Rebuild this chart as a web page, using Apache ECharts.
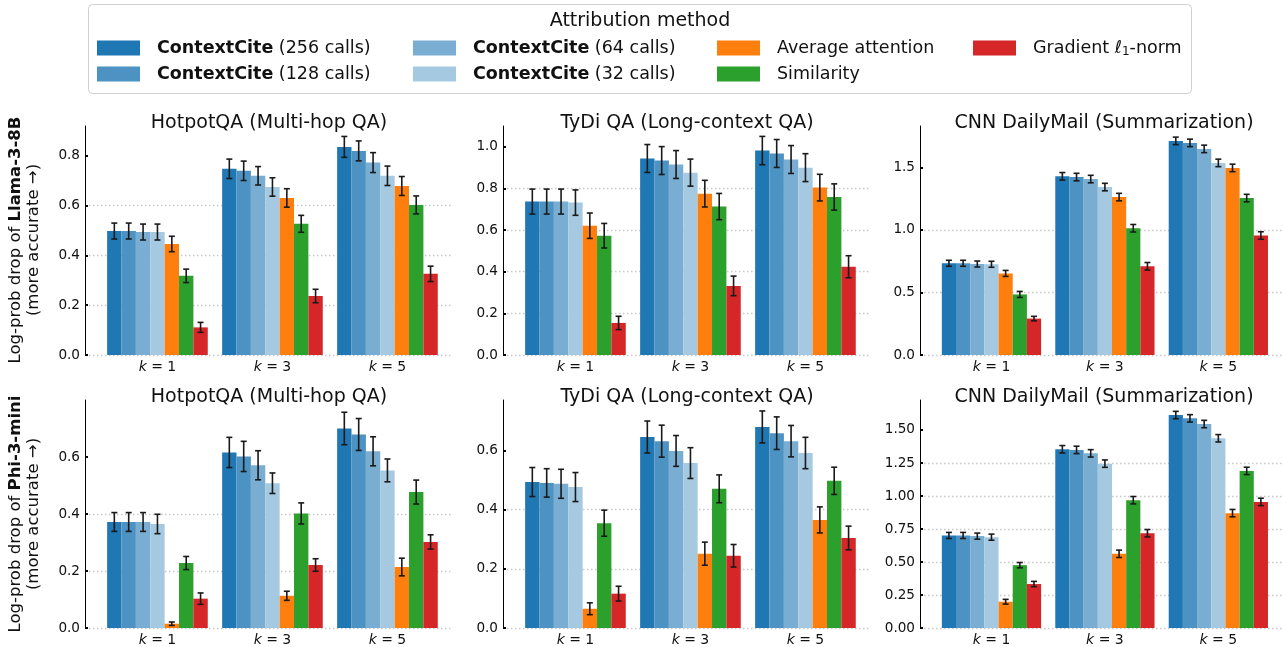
<!DOCTYPE html>
<html><head><meta charset="utf-8">
<script src="https://cdn.jsdelivr.net/npm/echarts@6/dist/echarts.min.js"></script>
<style>html,body{margin:0;padding:0;background:#fff}#c{width:1283px;height:647px}</style>
</head><body><div id="c"></div>
<script>
// ---- data ----
const groupLabels = ['1', '3', '5'];
const methods = ['ContextCite (256 calls)', 'ContextCite (128 calls)', 'ContextCite (64 calls)', 'ContextCite (32 calls)', 'Average attention', 'Similarity', 'Gradient ℓ1-norm'];
const methodColors = ['#1f77b4', '#4c92c3', '#79add2', '#a5c9e1', '#ff7f0e', '#2ca02c', '#d62728'];
const panelTitles = ['HotpotQA (Multi-hop QA)', 'TyDi QA (Long-context QA)', 'CNN DailyMail (Summarization)'];
const modelNames = ['Llama-3-8B', 'Phi-3-mini'];

// values per group (k=1, k=3, k=5), each with 7 methods
const llamaHotpotMean = [[0.498, 0.498, 0.494, 0.494, 0.446, 0.318, 0.111], [0.748, 0.740, 0.720, 0.675, 0.631, 0.527, 0.237], [0.836, 0.820, 0.773, 0.720, 0.679, 0.603, 0.326]];
const llamaHotpotErr = [[0.032, 0.032, 0.032, 0.032, 0.031, 0.027, 0.020], [0.039, 0.039, 0.037, 0.037, 0.037, 0.034, 0.027], [0.042, 0.040, 0.040, 0.039, 0.038, 0.036, 0.031]];
const llamaTydiMean = [[0.737, 0.737, 0.737, 0.732, 0.621, 0.573, 0.154], [0.944, 0.934, 0.915, 0.876, 0.775, 0.713, 0.332], [0.982, 0.968, 0.939, 0.900, 0.804, 0.759, 0.424]];
const llamaTydiErr = [[0.060, 0.060, 0.060, 0.061, 0.061, 0.059, 0.032], [0.067, 0.067, 0.067, 0.065, 0.064, 0.063, 0.047], [0.068, 0.067, 0.067, 0.067, 0.064, 0.063, 0.053]];
const llamaCnnMean = [[0.733, 0.733, 0.727, 0.725, 0.652, 0.484, 0.291], [1.428, 1.422, 1.406, 1.342, 1.262, 1.013, 0.709], [1.711, 1.695, 1.647, 1.535, 1.495, 1.254, 0.955]];
const llamaCnnErr = [[0.024, 0.024, 0.024, 0.024, 0.024, 0.024, 0.018], [0.030, 0.030, 0.030, 0.030, 0.030, 0.030, 0.030], [0.030, 0.030, 0.030, 0.030, 0.030, 0.030, 0.030]];
const phiHotpotMean = [[0.372, 0.372, 0.372, 0.365, 0.015, 0.228, 0.103], [0.616, 0.602, 0.571, 0.508, 0.113, 0.402, 0.221], [0.700, 0.679, 0.620, 0.553, 0.214, 0.477, 0.302]];
const phiHotpotErr = [[0.033, 0.033, 0.033, 0.034, 0.006, 0.023, 0.020], [0.053, 0.053, 0.051, 0.036, 0.016, 0.037, 0.022], [0.057, 0.056, 0.051, 0.040, 0.031, 0.042, 0.025]];
const phiTydiMean = [[0.493, 0.490, 0.487, 0.476, 0.065, 0.354, 0.116], [0.645, 0.631, 0.598, 0.557, 0.251, 0.470, 0.244], [0.679, 0.658, 0.631, 0.591, 0.365, 0.497, 0.304]];
const phiTydiErr = [[0.049, 0.048, 0.049, 0.049, 0.020, 0.044, 0.025], [0.054, 0.054, 0.052, 0.052, 0.039, 0.047, 0.038], [0.054, 0.055, 0.053, 0.053, 0.044, 0.046, 0.040]];
const phiCnnMean = [[0.701, 0.701, 0.696, 0.688, 0.199, 0.476, 0.333], [1.354, 1.349, 1.323, 1.245, 0.562, 0.968, 0.718], [1.613, 1.588, 1.545, 1.437, 0.870, 1.190, 0.955]];
const phiCnnErr = [[0.023, 0.023, 0.023, 0.023, 0.018, 0.020, 0.020], [0.028, 0.028, 0.028, 0.028, 0.028, 0.028, 0.028], [0.028, 0.028, 0.028, 0.028, 0.028, 0.028, 0.028]];

// y-axis ticks per panel
const yTicksLlamaHotpot = [0, 0.2, 0.4, 0.6, 0.8];
const yTicksLlamaTydi = [0, 0.2, 0.4, 0.6, 0.8, 1.0];
const yTicksLlamaCnn = [0, 0.5, 1.0, 1.5];
const yTicksPhiHotpot = [0, 0.2, 0.4, 0.6];
const yTicksPhiTydi = [0, 0.2, 0.4, 0.6];
const yTicksPhiCnn = [0, 0.25, 0.5, 0.75, 1.0, 1.25, 1.5];

// ---- layout ----
const FONT = 'DejaVu Sans';
const BW = 0.125;
const panels = [
  {mean: llamaHotpotMean, err: llamaHotpotErr, ticks: yTicksLlamaHotpot, max: 0.92, dec: 1, left: 85, top: 126, height: 229, title: panelTitles[0]},
  {mean: llamaTydiMean, err: llamaTydiErr, ticks: yTicksLlamaTydi, max: 1.10, dec: 1, left: 503, top: 126, height: 229, title: panelTitles[1]},
  {mean: llamaCnnMean, err: llamaCnnErr, ticks: yTicksLlamaCnn, max: 1.83, dec: 1, left: 920, top: 126, height: 229, title: panelTitles[2]},
  {mean: phiHotpotMean, err: phiHotpotErr, ticks: yTicksPhiHotpot, max: 0.80, dec: 1, left: 85, top: 400, height: 228, title: panelTitles[0]},
  {mean: phiTydiMean, err: phiTydiErr, ticks: yTicksPhiTydi, max: 0.77, dec: 1, left: 503, top: 400, height: 228, title: panelTitles[1]},
  {mean: phiCnnMean, err: phiCnnErr, ticks: yTicksPhiCnn, max: 1.727, dec: 2, left: 920, top: 400, height: 228, title: panelTitles[2]}
];
const PW = 368;

const grid = [], xAxis = [], yAxis = [], series = [], graphic = [];
panels.forEach((p, pi) => {
  grid.push({left: p.left, top: p.top, width: PW, height: p.height, containLabel: false});
  xAxis.push({
    type: 'value', gridIndex: pi, min: -0.63, max: 2.57,
    axisLine: {show: false, onZero: false}, axisTick: {show: false}, splitLine: {show: false},
    axisLabel: {
      customValues: [0, 1, 2], margin: 5,
      formatter: v => '{i|k} = ' + groupLabels[Math.round(v)],
      fontFamily: FONT, fontSize: 14, color: '#111',
      rich: {i: {fontStyle: 'italic', fontFamily: FONT, fontSize: 14, color: '#111'}}
    }
  });
  yAxis.push({
    type: 'value', gridIndex: pi, min: 0, max: p.max,
    axisLine: {show: true, onZero: false, lineStyle: {color: '#000', width: 1}},
    axisTick: {show: true, inside: true, length: 3, customValues: p.ticks, lineStyle: {color: '#000', width: 2}},
    axisLabel: {customValues: p.ticks, margin: 5, fontFamily: FONT, fontSize: 13.6, color: '#111', formatter: v => v.toFixed(p.dec)},
    splitLine: {show: true, showMaxLine: false, lineStyle: {type: [1.5, 2.5], color: '#c8c8c8', width: 1.3}}
  });
  methods.forEach((m, j) => {
    series.push({
      type: 'custom', name: m, xAxisIndex: pi, yAxisIndex: pi,
      itemStyle: {color: methodColors[j]},
      encode: {x: 0, y: 1},
      data: p.mean.map((g, gi) => [gi, g[j]]),
      renderItem: (params, api) => {
        const xc = api.value(0) + (j - 3) * BW;
        const a = api.coord([xc - BW / 2, 0]);
        const b = api.coord([xc + BW / 2, api.value(1)]);
        return {type: 'rect', shape: {x: a[0], y: b[1], width: b[0] - a[0], height: a[1] - b[1]}, style: {fill: methodColors[j]}};
      },
      z: 2
    });
  });
  const errData = [];
  p.mean.forEach((g, gi) => g.forEach((v, j) => errData.push([gi + (j - 3) * BW, v, p.err[gi][j]])));
  series.push({
    type: 'custom', name: 'err' + pi, xAxisIndex: pi, yAxisIndex: pi,
    encode: {x: 0, y: 1},
    data: errData,
    renderItem: (params, api) => {
      const x = api.value(0), v = api.value(1), e = api.value(2);
      const lo = api.coord([x, v - e]), hi = api.coord([x, v + e]);
      const st = {stroke: '#1a1a1a', lineWidth: 1.6};
      return {type: 'group', children: [
        {type: 'line', shape: {x1: lo[0], y1: lo[1], x2: hi[0], y2: hi[1]}, style: st},
        {type: 'line', shape: {x1: lo[0] - 3, y1: lo[1], x2: lo[0] + 3, y2: lo[1]}, style: st},
        {type: 'line', shape: {x1: hi[0] - 3, y1: hi[1], x2: hi[0] + 3, y2: hi[1]}, style: st}
      ]};
    },
    z: 5
  });
  graphic.push({
    type: 'text', x: p.left + PW / 2, y: p.top + 6.5,
    style: {text: p.title, font: '19px "DejaVu Sans"', fill: '#111', textAlign: 'center', textVerticalAlign: 'bottom'}
  });
});

// row labels (y-axis titles)
[0, 1].forEach(r => {
  const cy = r === 0 ? 240 : 514;
  graphic.push({
    type: 'text', x: 25, y: cy, rotation: Math.PI / 2,
    style: {
      text: 'Log-prob drop of {b|' + modelNames[r] + '}\n(more accurate →)',
      font: '16.5px "DejaVu Sans"', fill: '#111', textAlign: 'center', textVerticalAlign: 'middle', lineHeight: 18,
      rich: {b: {fontWeight: 'bold', fontFamily: FONT, fontSize: 16.5, fill: '#111', lineHeight: 18}}
    }
  });
});

// legend frame + title
graphic.push({type: 'rect', shape: {x: 88.5, y: 4.5, width: 1103, height: 89, r: 4}, style: {fill: '#fff', stroke: '#d0d0d0', lineWidth: 1}, z: -10});
graphic.push({type: 'text', x: 640, y: 21, style: {text: 'Attribution method', font: '19px "DejaVu Sans"', fill: '#111', textAlign: 'center', textVerticalAlign: 'middle'}});

const legendRich = {
  s: {width: 12, fontSize: 17.5},
  b: {fontWeight: 'bold', fontFamily: FONT, fontSize: 17.5, color: '#111', lineHeight: 20},
  r: {fontFamily: FONT, fontSize: 17.5, color: '#111', lineHeight: 20},
  sub: {fontFamily: FONT, fontSize: 12, color: '#111', lineHeight: 20, verticalAlign: 'bottom', padding: [6, 0, 0, 0]}
};
function legendFmt(name) {
  if (name.indexOf('ContextCite') === 0) return '{s| }{b|ContextCite}{r|' + name.slice(11) + '}';
  if (name.indexOf('Gradient') === 0) return '{s| }{r|Gradient ℓ}{sub|1}{r|-norm}';
  return '{s| }{r|' + name + '}';
}
const legendCols = [[methods[0], methods[1]], [methods[2], methods[3]], [methods[4], methods[5]], [methods[6]]];
const legendX = [97, 413, 717, 973];
const legend = legendCols.map((d, i) => ({
  data: d, left: legendX[i], top: 38, orient: 'vertical', icon: 'rect',
  itemWidth: 43, itemHeight: 15, itemGap: 6, selectedMode: false, padding: 0,
  formatter: legendFmt,
  textStyle: {fontFamily: FONT, fontSize: 17.5, color: '#111', lineHeight: 20, rich: legendRich}
}));

const chart = echarts.init(document.getElementById('c'), null, {renderer: 'canvas'});
chart.setOption({
  animation: false,
  backgroundColor: '#fff',
  textStyle: {fontFamily: FONT},
  grid, xAxis, yAxis, series, legend, graphic
});
</script>
</body></html>
